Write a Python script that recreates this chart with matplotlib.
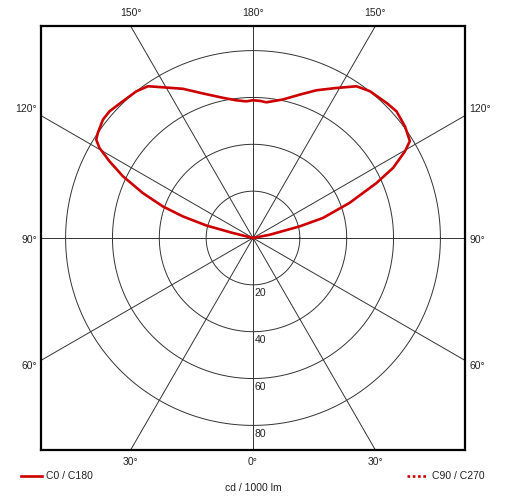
import numpy as np
import matplotlib
matplotlib.use('Agg')
import matplotlib.pyplot as plt

# luminous intensity (cd/1000 lm) vs gamma angle, 0 = down, 180 = up
gamma_c0 = [90, 101, 104, 106, 110, 114, 116.6, 119.7, 121.7, 126.3, 131.4, 135.3,
            141.5, 145.7, 150.9, 156.8, 161.9, 167.8, 174.4, 177, 180]
i_c0 = [0, 7.3, 20.6, 31.1, 43.9, 57.7, 66.9, 74.7, 78.7, 80.5, 81.7, 81.1,
        80.1, 78.4, 73.3, 68.6, 64.4, 60.5, 58.2, 58.6, 58.8]

gamma_c180 = [90, 104, 105, 107.1, 109.3, 112.2, 115.4, 118.1, 120.4, 122.1, 124.1, 128.3,
              131.5, 136.4, 141.5, 145.3, 147.4, 154.8, 160.9, 167.9, 173.1, 177.2, 180]
i_c180 = [0, 9, 20.6, 31.3, 40.8, 50.8, 61.5, 69.4, 76.0, 79.0, 80.0, 81.6,
          81.7, 80.6, 80.0, 78.8, 76.6, 70.4, 65.3, 61.2, 59.2, 58.4, 58.8]

rings = [20, 40, 60, 80]
spokes = [0, 30, 60, 90, 120, 150]
top_labels = ['150°', '180°', '150°']
bottom_labels = ['30°', '0°', '30°']
side_labels = ['120°', '90°', '60°']

L = 90.5
red = '#cc0000'
grid_c = '#333333'
txt_c = '#222222'
fs = 7.5
font = 'Liberation Sans'

fig = plt.figure(figsize=(5.10, 5.03), dpi=100)
ax = fig.add_axes([41 / 510, 53 / 503, 424 / 510, 424 / 503])
ax.set_xlim(-L, L)
ax.set_ylim(-L, L)
ax.set_xticks([])
ax.set_yticks([])
for s in ax.spines.values():
    s.set_linewidth(1.6)
    s.set_color('black')

t = np.linspace(0, 2 * np.pi, 400)
for r in rings:
    ax.plot(r * np.cos(t), r * np.sin(t), color=grid_c, lw=0.7, zorder=1)
    ax.text(0.8, -r - 1.5, str(r), ha='left', va='top', fontsize=fs,
            color=txt_c, family=font)
for a in spokes:
    rad = np.radians(a)
    ax.plot([-200 * np.sin(rad), 200 * np.sin(rad)],
            [-200 * np.cos(rad), 200 * np.cos(rad)], color=grid_c, lw=0.7, zorder=1)

# curve: C180 on the left, C0 on the right
g_l = np.radians(gamma_c180)
g_r = np.radians(gamma_c0)
xl = -np.array(i_c180) * np.sin(g_l)
yl = -np.array(i_c180) * np.cos(g_l)
xr = np.array(i_c0) * np.sin(g_r)
yr = -np.array(i_c0) * np.cos(g_r)
x = np.concatenate([xl, xr[::-1]])
y = np.concatenate([yl, yr[::-1]])
ax.plot(x, y, color=red, lw=1.9, zorder=3, solid_joinstyle='round')

# angle labels
dx = L * np.tan(np.radians(30))
for xp, lab in zip([-dx, 0, dx], top_labels):
    ax.text(xp, 96.2, lab, ha='center', va='center', fontsize=fs, color=txt_c,
            family=font, clip_on=False)
for xp, lab in zip([-dx, 0, dx], bottom_labels):
    ax.text(xp, -95.7, lab, ha='center', va='center', fontsize=fs, color=txt_c,
            family=font, clip_on=False)
for yp, lab in zip([55.2, -1.0, -54.5], side_labels):
    ax.text(-92.3, yp, lab, ha='right', va='center', fontsize=fs, color=txt_c,
            family=font, clip_on=False)
    ax.text(92.4, yp, lab, ha='left', va='center', fontsize=fs, color=txt_c,
            family=font, clip_on=False)

# legend and unit
ax.plot([-99.1, -90.1], [-101.8, -101.8], color=red, lw=1.9, clip_on=False)
ax.text(-88.5, -101.8, 'C0 / C180', ha='left', va='center', fontsize=fs,
        color=txt_c, family=font, clip_on=False)
ax.plot([65.6, 74.5], [-101.8, -101.8], color=red, lw=1.9, ls=(0, (1, 1)), clip_on=False)
ax.text(76.2, -101.8, 'C90 / C270', ha='left', va='center', fontsize=fs,
        color=txt_c, family=font, clip_on=False)
ax.text(0, -106.9, 'cd / 1000 lm', ha='center', va='center', fontsize=fs,
        color=txt_c, family=font, clip_on=False)

fig.savefig('out.png', dpi=100)
